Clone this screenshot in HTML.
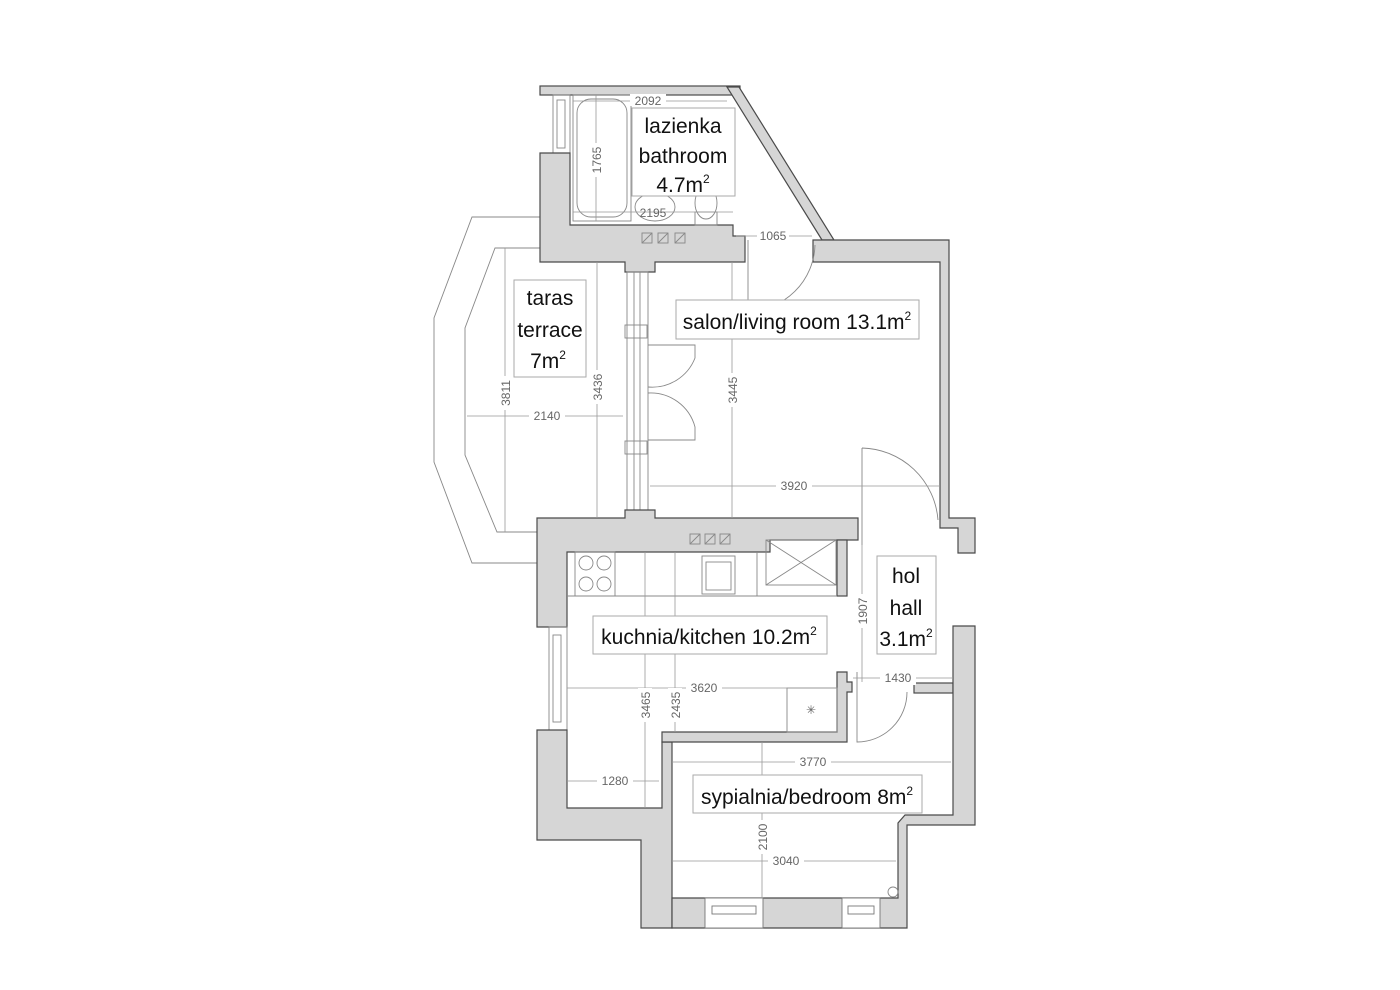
<!DOCTYPE html>
<html><head><meta charset="utf-8"><style>
html,body{margin:0;padding:0;background:#fff}
svg{display:block}
.w{fill:#d6d6d6;stroke:#4a4a4a;stroke-width:1.2}
.l{fill:none;stroke:#888;stroke-width:0.9}
.wn{fill:#fff;stroke:#777;stroke-width:0.9}
.d{fill:none;stroke:#999;stroke-width:0.8}
.t{font-family:"Liberation Sans Narrow","Liberation Sans",sans-serif;fill:#111}
.dt{font-family:"Liberation Sans Narrow","Liberation Sans",sans-serif;fill:#666;font-size:12px}
.box{fill:#fff;stroke:#aaa;stroke-width:1}
</style></head><body>
<svg width="1400" height="990" viewBox="0 0 1400 990" xmlns="http://www.w3.org/2000/svg">
<!-- terrace -->
<polyline class="l" points="540,217 472,217 434,318 434,462 472,563 537,563"/>
<polyline class="l" points="540,248 495,248 465,328 465,455 497,532 537,532"/>

<!-- bathroom walls -->
<rect class="w" x="540" y="86" width="200" height="9"/>
<rect class="l" x="553" y="95" width="17" height="58"/>
<rect class="l" x="557" y="100" width="8" height="48"/>
<path class="w" d="M540,153 L570,153 L570,225 L733,225 L733,236 L745,236 L745,262 L655,262 L655,272 L625,272 L625,262 L540,262 Z"/>
<polygon class="w" points="727,87 739,87 834,240 822,240"/>
<!-- bathroom fixtures -->
<rect class="l" x="573" y="95" width="58" height="126"/>
<rect class="l" x="577" y="99" width="50" height="118" rx="14"/>
<ellipse class="l" cx="655" cy="207" rx="20" ry="14"/>
<ellipse class="l" cx="706" cy="203" rx="11" ry="16"/>
<rect class="l" x="695" y="212" width="22" height="13"/>
<g class="l"><rect x="642" y="233" width="10" height="10"/><line x1="642" y1="243" x2="652" y2="233"/>
<rect x="658" y="233" width="10" height="10"/><line x1="658" y1="243" x2="668" y2="233"/>
<rect x="675" y="233" width="10" height="10"/><line x1="675" y1="243" x2="685" y2="233"/></g>

<!-- living room walls -->
<polygon class="w" points="813,240 949,240 949,518 975,518 975,553 958,553 958,528 940,528 940,262 813,262"/>
<!-- terrace/living partition (window wall) -->
<rect class="l" x="627" y="272" width="21" height="246"/>
<line class="l" x1="634" y1="272" x2="634" y2="518"/><line class="l" x1="640" y1="272" x2="640" y2="518"/>
<rect class="l" x="625" y="325" width="22" height="13"/>
<rect class="l" x="625" y="441" width="22" height="13"/>
<!-- closet doors -->
<path class="l" d="M648,345 L695,345 L695,358 A46,46 0 0 1 648,387"/>
<path class="l" d="M648,440 L695,440 L695,427 A46,46 0 0 0 648,393"/>
<!-- living door -->
<path class="l" d="M748,240 L748,311 A68,68 0 0 0 815,245"/>
<!-- hall door -->
<path class="l" d="M862,448 L862,545 M862,448 A78,78 0 0 1 938,520"/>

<!-- kitchen / bedroom walls -->
<path class="w" d="M537,518 L625,518 L625,510 L655,510 L655,518 L858,518 L858,540 L770,540 L770,552 L567,552 L567,627 L537,627 Z"/>
<rect class="l" x="549" y="627" width="18" height="103"/>
<rect class="l" x="553" y="635" width="8" height="87"/>
<path class="w" d="M537,730 L567,730 L567,808 L662,808 L662,742 L672,742 L672,928 L641,928 L641,840 L537,840 Z"/>
<path class="w" d="M662,732 L837,732 L837,672 L847,672 L847,682 L852,682 L852,692 L847,692 L847,742 L672,742 L662,742 Z"/>
<rect class="w" x="837" y="540" width="10" height="56"/>
<rect class="w" x="914" y="683" width="39" height="10"/>
<path class="w" d="M672,898 L898,898 L898,823 L905,815 L953,815 L953,626 L975,626 L975,825 L907,825 L907,928 L672,928 Z"/>
<rect class="wn" x="705" y="898" width="58" height="30"/><rect class="wn" x="712" y="906" width="44" height="8"/>
<rect class="wn" x="842" y="898" width="38" height="30"/><rect class="wn" x="848" y="906" width="26" height="8"/>
<circle class="l" cx="893" cy="892" r="5"/>
<!-- bedroom door -->
<path class="l" d="M857,672 L857,742 A50,50 0 0 0 907,692"/>

<!-- kitchen fixtures -->
<line class="l" x1="567" y1="596" x2="837" y2="596"/>
<rect class="l" x="575" y="552" width="40" height="44"/>
<circle class="l" cx="586" cy="563" r="7"/><circle class="l" cx="604" cy="563" r="7"/>
<circle class="l" cx="586" cy="584" r="7"/><circle class="l" cx="604" cy="584" r="7"/>
<rect class="l" x="702" y="556" width="33" height="38"/><rect class="l" x="706" y="562" width="25" height="28"/>
<line class="l" x1="757" y1="552" x2="757" y2="596"/>
<rect class="l" x="766" y="540" width="70" height="45"/>
<line class="l" x1="766" y1="540" x2="836" y2="585"/><line class="l" x1="836" y1="540" x2="766" y2="585"/>
<g class="l"><rect x="690" y="534" width="10" height="10"/><line x1="690" y1="544" x2="700" y2="534"/>
<rect x="705" y="534" width="10" height="10"/><line x1="705" y1="544" x2="715" y2="534"/>
<rect x="720" y="534" width="10" height="10"/><line x1="720" y1="544" x2="730" y2="534"/></g>
<rect class="l" x="787" y="688" width="50" height="44"/>
<text x="811" y="714" class="dt" text-anchor="middle">✳</text>

<!-- dimension lines -->
<g class="d">
<line x1="573" y1="101" x2="727" y2="101"/>
<line x1="596" y1="95" x2="596" y2="221"/>
<line x1="573" y1="212" x2="733" y2="212"/>
<line x1="736" y1="236" x2="812" y2="236"/>
<line x1="505" y1="248" x2="505" y2="532"/>
<line x1="597" y1="262" x2="597" y2="518"/>
<line x1="467" y1="416" x2="623" y2="416"/>
<line x1="732" y1="262" x2="732" y2="518"/>
<line x1="650" y1="486" x2="940" y2="486"/>
<line x1="862" y1="545" x2="862" y2="682"/>
<line x1="853" y1="678" x2="953" y2="678"/>
<line x1="567" y1="688" x2="837" y2="688"/>
<line x1="645" y1="552" x2="645" y2="808"/>
<line x1="675" y1="552" x2="675" y2="732"/>
<line x1="567" y1="781" x2="659" y2="781"/>
<line x1="672" y1="762" x2="951" y2="762"/>
<line x1="762" y1="742" x2="762" y2="898"/>
<line x1="672" y1="861" x2="896" y2="861"/>
</g>
<g class="dt" text-anchor="middle">
<rect x="630" y="94" width="36" height="12" fill="#fff"/><text x="648" y="105">2092</text>
<rect x="589" y="143" width="14" height="34" fill="#fff"/><text transform="translate(601,160) rotate(-90)">1765</text>
<text x="653" y="217">2195</text>
<rect x="757" y="229" width="32" height="13" fill="#fff"/><text x="773" y="240">1065</text>
<rect x="498" y="376" width="14" height="34" fill="#fff"/><text transform="translate(510,393) rotate(-90)">3811</text>
<rect x="590" y="370" width="14" height="34" fill="#fff"/><text transform="translate(602,387) rotate(-90)">3436</text>
<rect x="529" y="409" width="36" height="14" fill="#fff"/><text x="547" y="420">2140</text>
<rect x="725" y="373" width="14" height="34" fill="#fff"/><text transform="translate(737,390) rotate(-90)">3445</text>
<rect x="776" y="479" width="36" height="14" fill="#fff"/><text x="794" y="490">3920</text>
<rect x="855" y="594" width="14" height="34" fill="#fff"/><text transform="translate(867,611) rotate(-90)">1907</text>
<rect x="880" y="671" width="36" height="14" fill="#fff"/><text x="898" y="682">1430</text>
<rect x="686" y="681" width="36" height="14" fill="#fff"/><text x="704" y="692">3620</text>
<rect x="638" y="688" width="14" height="34" fill="#fff"/><text transform="translate(650,705) rotate(-90)">3465</text>
<rect x="668" y="688" width="14" height="34" fill="#fff"/><text transform="translate(680,705) rotate(-90)">2435</text>
<rect x="597" y="774" width="36" height="14" fill="#fff"/><text x="615" y="785">1280</text>
<rect x="795" y="755" width="36" height="14" fill="#fff"/><text x="813" y="766">3770</text>
<rect x="755" y="820" width="14" height="34" fill="#fff"/><text transform="translate(767,837) rotate(-90)">2100</text>
<rect x="768" y="854" width="36" height="14" fill="#fff"/><text x="786" y="865">3040</text>
</g>

<!-- labels -->
<rect class="box" x="632" y="108" width="103" height="88"/>
<g class="t" font-size="21" text-anchor="middle">
<text x="683" y="133">lazienka</text>
<text x="683" y="163">bathroom</text>
<text x="683" y="192">4.7m<tspan font-size="12" dy="-9">2</tspan></text>
</g>
<rect class="box" x="514" y="280" width="72" height="97"/>
<g class="t" font-size="21" text-anchor="middle">
<text x="550" y="305">taras</text>
<text x="550" y="337">terrace</text>
<text x="548" y="368">7m<tspan font-size="12" dy="-9">2</tspan></text>
</g>
<rect class="box" x="676" y="300" width="243" height="39"/>
<text class="t" x="797" y="329" font-size="21" text-anchor="middle">salon/living room 13.1m<tspan font-size="12" dy="-9">2</tspan></text>
<rect class="box" x="593" y="616" width="234" height="38"/>
<text class="t" x="709" y="644" font-size="21" text-anchor="middle">kuchnia/kitchen 10.2m<tspan font-size="12" dy="-9">2</tspan></text>
<rect class="box" x="877" y="556" width="59" height="98"/>
<g class="t" font-size="21" text-anchor="middle">
<text x="906" y="583">hol</text>
<text x="906" y="615">hall</text>
<text x="906" y="646">3.1m<tspan font-size="12" dy="-9">2</tspan></text>
</g>
<rect class="box" x="693" y="775" width="229" height="38"/>
<text class="t" x="807" y="804" font-size="21" text-anchor="middle">sypialnia/bedroom 8m<tspan font-size="12" dy="-9">2</tspan></text>
</svg>
</body></html>
